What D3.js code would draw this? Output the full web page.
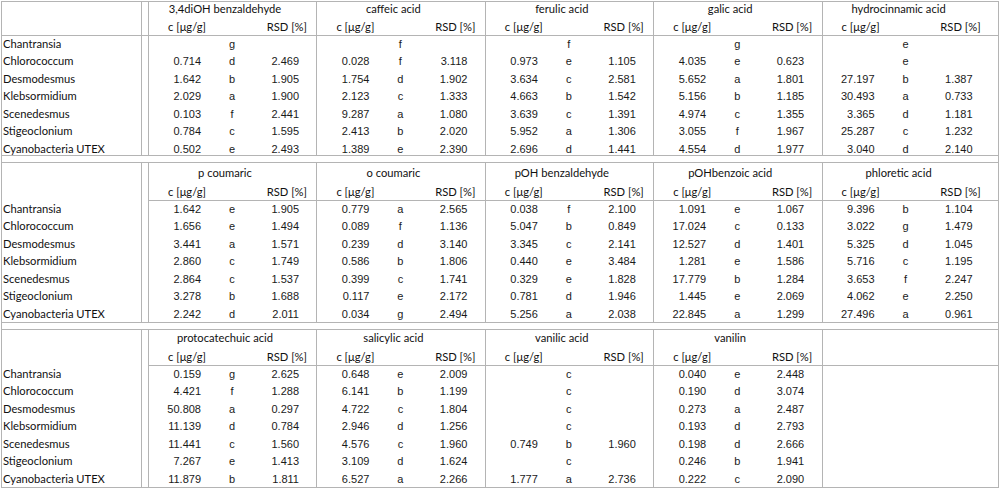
<!DOCTYPE html>
<html><head><meta charset="utf-8">
<script src="https://cdn.jsdelivr.net/npm/d3@7"></script>
<style>
html,body{margin:0;padding:0;background:#fff;}
svg{display:block;}
.lbl{font-family:Lato,"Noto Sans",sans-serif;font-size:11.2px;fill:#111;}
.num{font-family:"Liberation Sans",Arial,sans-serif;font-size:11px;fill:#1a1a1a;}
</style></head>
<body>
<svg id="chart" width="1000" height="489"></svg>
<script>
// ---- data ----
const species = ["Chantransia","Chlorococcum","Desmodesmus","Klebsormidium","Scenedesmus","Stigeoclonium","Cyanobacteria UTEX"];
const compounds = ["3,4diOH benzaldehyde","caffeic acid","ferulic acid","galic acid","hydrocinnamic acid",
  "p coumaric","o coumaric","pOH benzaldehyde","pOHbenzoic acid","phloretic acid",
  "protocatechuic acid","salicylic acid","vanilic acid","vanilin"];
const concHeader = "c [μg/g]";
const rsdHeader = "RSD [%]";
const conc = [
  [null,0.714,1.642,2.029,0.103,0.784,0.502],
  [null,0.028,1.754,2.123,9.287,2.413,1.389],
  [null,0.973,3.634,4.663,3.639,5.952,2.696],
  [null,4.035,5.652,5.156,4.974,3.055,4.554],
  [null,null,27.197,30.493,3.365,25.287,3.040],
  [1.642,1.656,3.441,2.860,2.864,3.278,2.242],
  [0.779,0.089,0.239,0.586,0.399,0.117,0.034],
  [0.038,5.047,3.345,0.440,0.329,0.781,5.256],
  [1.091,17.024,12.527,1.281,17.779,1.445,22.845],
  [9.396,3.022,5.325,5.716,3.653,4.062,27.496],
  [0.159,4.421,50.808,11.139,11.441,7.267,11.879],
  [0.648,6.141,4.722,2.946,4.576,3.109,6.527],
  [null,null,null,null,0.749,null,1.777],
  [0.040,0.190,0.273,0.193,0.198,0.246,0.222]
];
const groups = [
  ["g","d","b","a","f","c","e"],
  ["f","f","d","c","a","b","e"],
  ["f","e","c","b","c","a","d"],
  ["g","e","a","b","c","f","d"],
  ["e","e","b","a","d","c","d"],
  ["e","e","a","c","c","b","d"],
  ["a","f","d","b","c","e","g"],
  ["f","b","c","e","e","d","a"],
  ["e","c","d","e","b","e","a"],
  ["b","g","d","c","f","e","a"],
  ["g","f","a","d","c","e","b"],
  ["e","b","c","d","c","d","a"],
  ["c","c","c","c","b","c","a"],
  ["e","d","a","d","d","b","c"]
];
const rsd = [
  [null,2.469,1.905,1.900,2.441,1.595,2.493],
  [null,3.118,1.902,1.333,1.080,2.020,2.390],
  [null,1.105,2.581,1.542,1.391,1.306,1.441],
  [null,0.623,1.801,1.185,1.355,1.967,1.977],
  [null,null,1.387,0.733,1.181,1.232,2.140],
  [1.905,1.494,1.571,1.749,1.537,1.688,2.011],
  [2.565,1.136,3.140,1.806,1.741,2.172,2.494],
  [2.100,0.849,2.141,3.484,1.828,1.946,2.038],
  [1.067,0.133,1.401,1.586,1.284,2.069,1.299],
  [1.104,1.479,1.045,1.195,2.247,2.250,0.961],
  [2.625,1.288,0.297,0.784,1.560,1.413,1.811],
  [2.009,1.199,1.804,1.256,1.960,1.624,2.266],
  [null,null,null,null,1.960,null,2.736],
  [2.448,3.074,2.487,2.793,2.666,1.941,2.090]
];

// ---- layout ----
const svg = d3.select("#chart");
const lineCol = "#b4b4b4";
const fmt = d3.format(".3f");
const perSection = 5;
const slots = d3.range(perSection);
const x = d3.scaleBand().domain(slots).range([148, 148 + 168.4 * 5]);
const sections = [
  {top: 1,   bottom: 155, title: 9,   sub: 27,  line: 35,  row0: 44,  fullHeaderLine: true},
  {top: 162, bottom: 322, title: 173, sub: 192, line: 200, row0: 209, fullHeaderLine: false},
  {top: 329, bottom: 487, title: 338, sub: 357, line: 365, row0: 374, fullHeaderLine: false}
];
const rowStep = 17.5;

const g = svg.append("g").attr("shape-rendering","crispEdges");

// outer frame
g.append("line").attr("x1",1.5).attr("x2",1.5).attr("y1",1).attr("y2",488).attr("stroke",lineCol);
g.append("line").attr("x1",998.5).attr("x2",998.5).attr("y1",1).attr("y2",488).attr("stroke",lineCol);

sections.forEach((s, si) => {
  const y = d3.scaleBand().domain(d3.range(species.length))
    .range([s.row0 - rowStep/2, s.row0 - rowStep/2 + rowStep*species.length]);
  const sg = svg.append("g");
  g.append("line").attr("x1",1).attr("x2",999).attr("y1",s.top+0.5).attr("y2",s.top+0.5).attr("stroke",lineCol);
  g.append("line").attr("x1",1).attr("x2",999).attr("y1",s.bottom+0.5).attr("y2",s.bottom+0.5).attr("stroke",lineCol);
  g.append("line").attr("x1", s.fullHeaderLine ? 1 : 148).attr("x2",999)
    .attr("y1",s.line+0.5).attr("y2",s.line+0.5).attr("stroke",lineCol);
  [141.5, 148.5].concat(slots.slice(1).map(i => Math.round(x(i)) + 0.5)).forEach(xx => {
    g.append("line").attr("x1",xx).attr("x2",xx).attr("y1",s.top).attr("y2",s.bottom+1).attr("stroke",lineCol);
  });
  sg.selectAll("text.sp").data(species).join("text").attr("class","lbl sp")
    .attr("x",3).attr("y",(d,i)=> y(i)+y.bandwidth()/2).attr("dy","0.35em").text(d=>d);
  const idx = d3.range(si*perSection, Math.min(compounds.length, (si+1)*perSection));
  idx.forEach((ci, k) => {
    const x0 = x(k);
    sg.append("text").attr("class","lbl").attr("x",x0+77).attr("y",s.title).attr("dy","0.35em")
      .attr("text-anchor","middle").text(compounds[ci]);
    sg.append("text").attr("class","lbl").attr("x",x0+39).attr("y",s.sub).attr("dy","0.35em")
      .attr("text-anchor","middle").text(concHeader);
    sg.append("text").attr("class","lbl").attr("x",x0+159).attr("y",s.sub).attr("dy","0.35em")
      .attr("text-anchor","end").text(rsdHeader);
    species.forEach((sp, r) => {
      const cy = y(r) + y.bandwidth()/2;
      if (conc[ci][r] !== null)
        sg.append("text").attr("class","num").attr("x",x0+53).attr("y",cy).attr("dy","0.35em")
          .attr("text-anchor","end").text(fmt(conc[ci][r]));
      sg.append("text").attr("class","num").attr("x",x0+84).attr("y",cy).attr("dy","0.35em")
        .attr("text-anchor","middle").text(groups[ci][r]);
      if (rsd[ci][r] !== null)
        sg.append("text").attr("class","num").attr("x",x0+151).attr("y",cy).attr("dy","0.35em")
          .attr("text-anchor","end").text(fmt(rsd[ci][r]));
    });
  });
});
</script>
</body></html>
